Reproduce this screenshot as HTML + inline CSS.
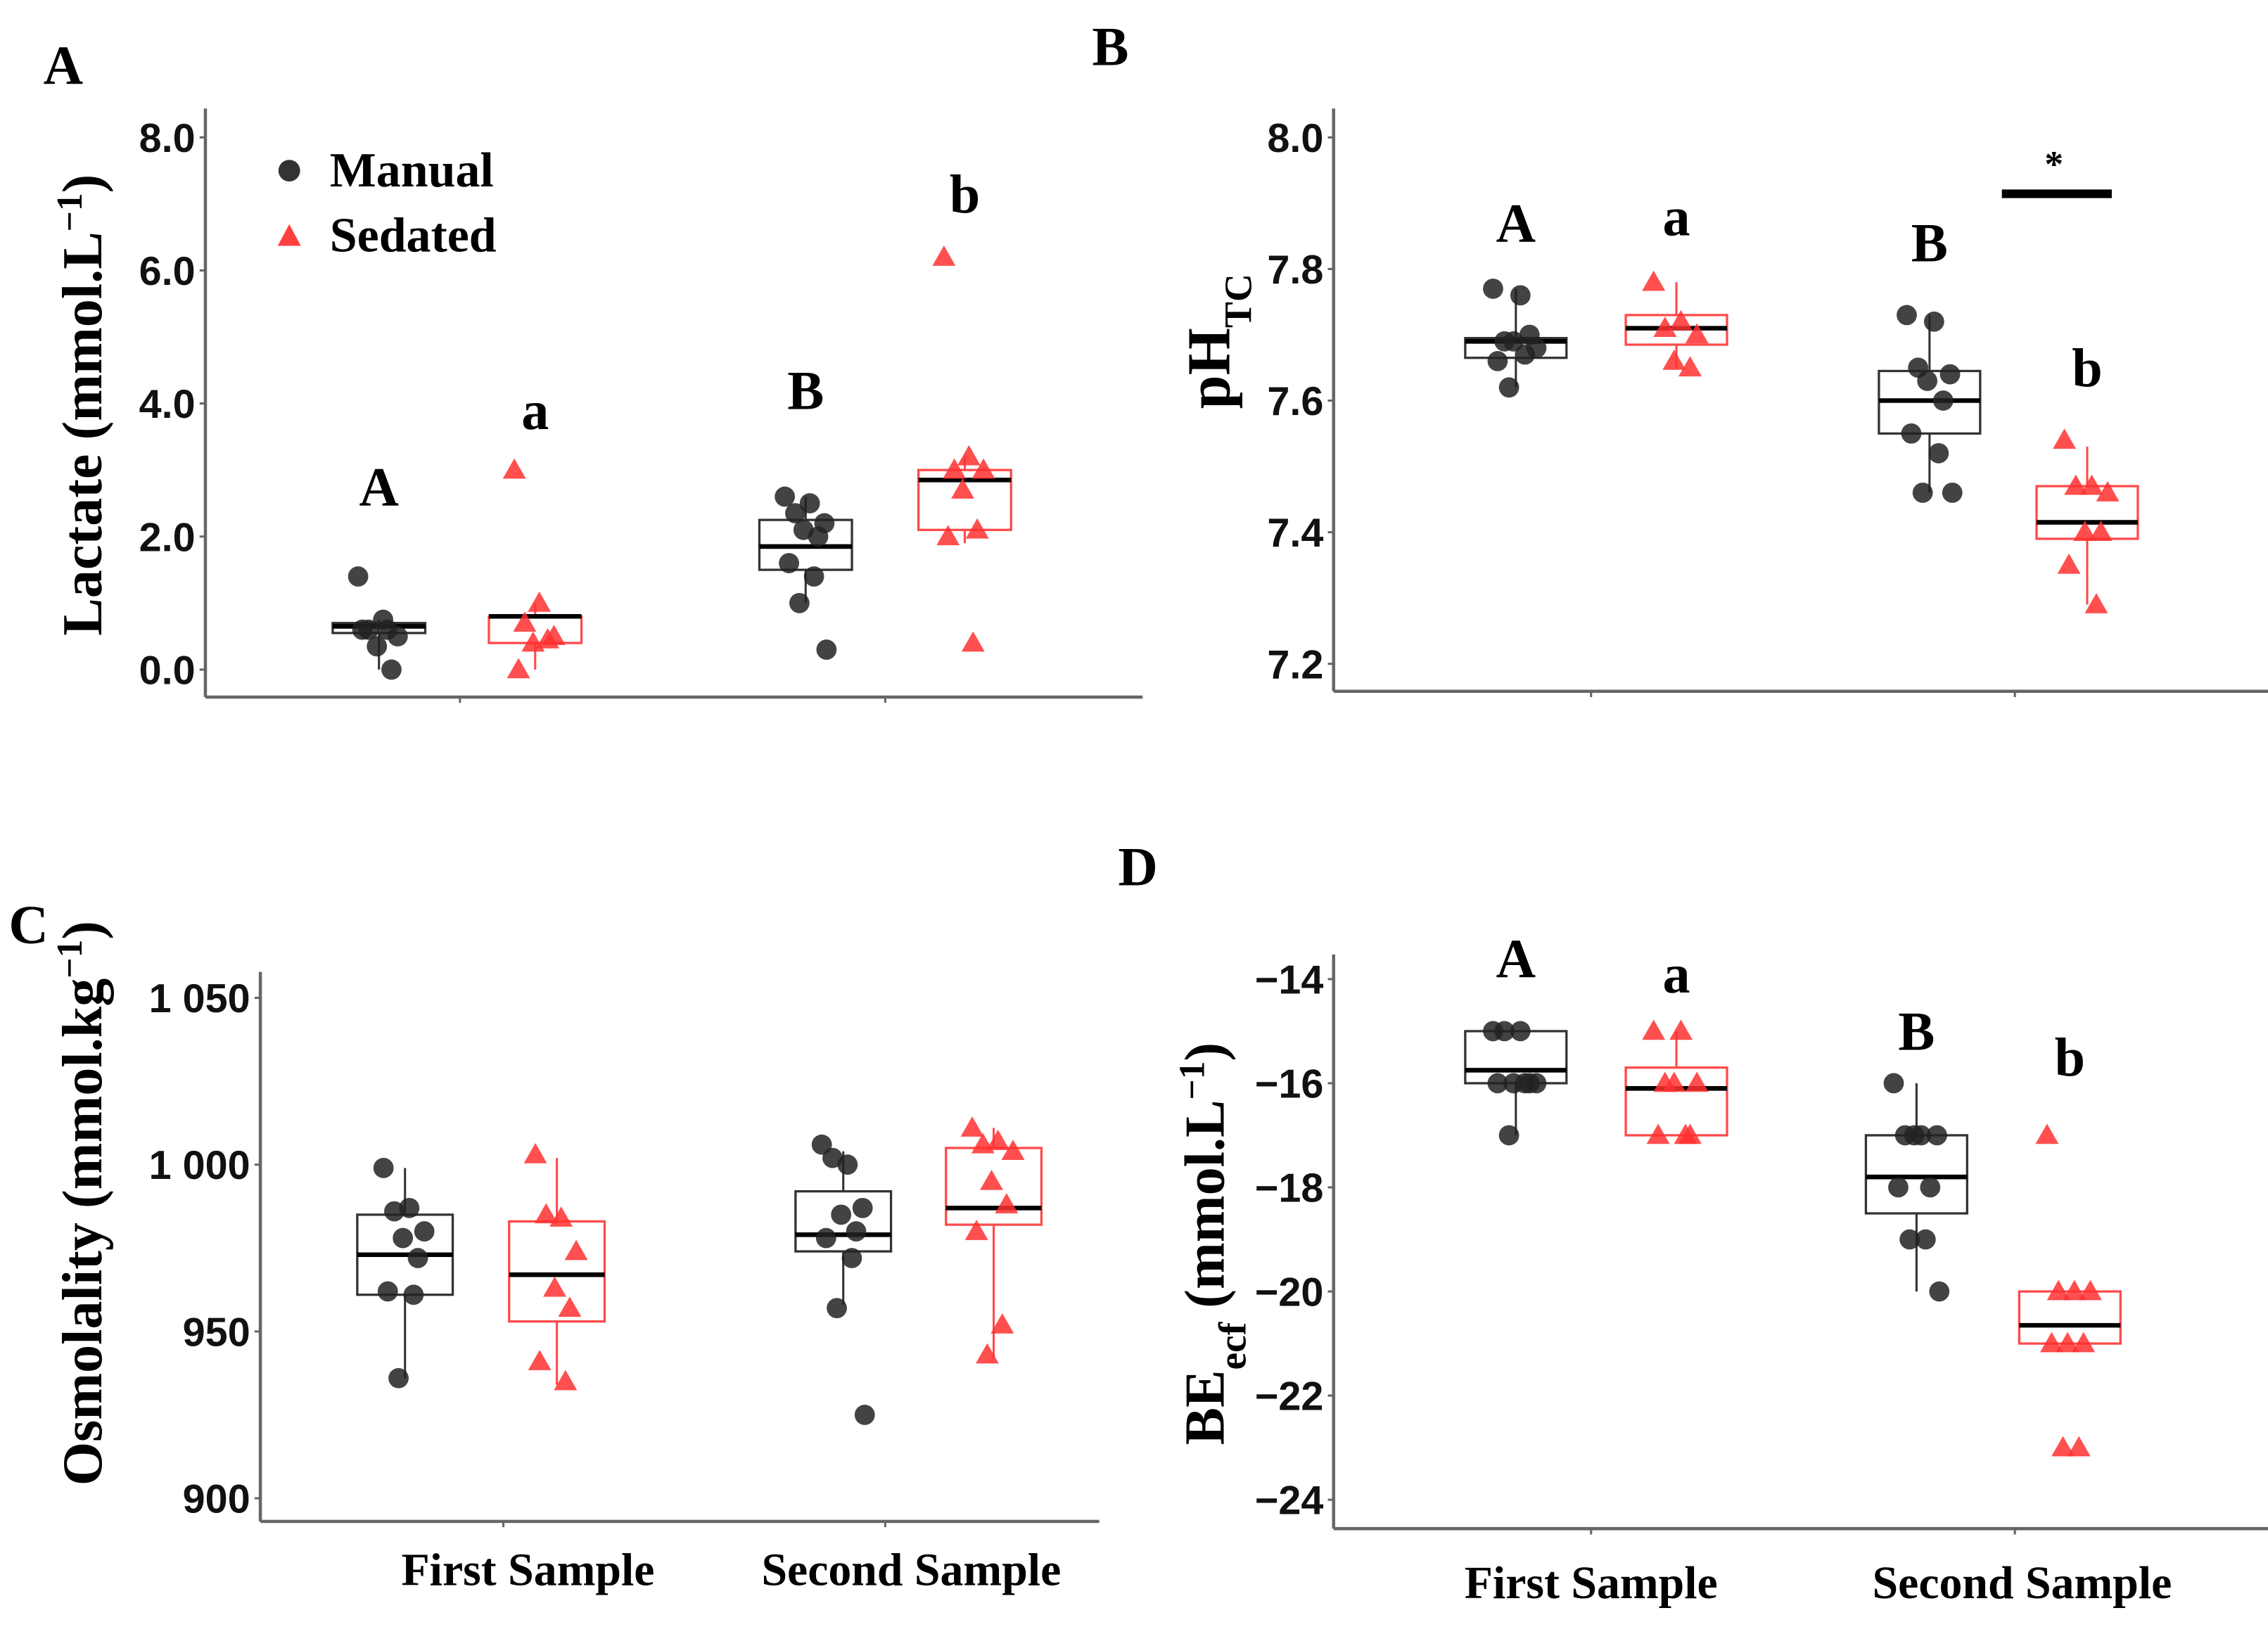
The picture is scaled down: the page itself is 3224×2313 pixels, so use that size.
<!DOCTYPE html>
<html><head><meta charset="utf-8"><style>
html,body{margin:0;padding:0;background:#fff;}
svg{display:block;}
</style></head><body>
<svg id="fig" width="3224" height="2313" viewBox="0 0 1568 1125" preserveAspectRatio="none" xmlns="http://www.w3.org/2000/svg">
<rect x="0" y="0" width="1568" height="1125" fill="#fff"/>
<g font-family="'Liberation Serif', serif" font-weight="bold" fill="#000">
<text x="30" y="58" font-size="38">A</text>
<text x="755" y="45" font-size="38">B</text>
<text x="6" y="652" font-size="38">C</text>
<text x="773" y="612" font-size="38">D</text>
</g>
<g font-family="'Liberation Serif', serif" font-weight="bold" font-size="34">
<circle cx="200" cy="118" r="7.5" fill="#333"/>
<text x="228" y="129">Manual</text>
<polygon points="200,155 208,170 192,170" fill="#ff4040"/>
<text x="228" y="174">Sedated</text>
</g>
<g>
<line x1="1384" y1="134" x2="1460" y2="134" stroke="#000" stroke-width="6"/>
<text x="1420" y="122" font-family="'Liberation Serif', serif" font-weight="bold" font-size="26" text-anchor="middle">*</text>
</g>
</svg>
<script>
// ---------- Panel A: Lactate ----------
const aTicks = [0, 2, 4, 6, 8];
const aTickLabels = ["0.0", "2.0", "4.0", "6.0", "8.0"];
const aLo = [0.0, 0.0, 1.0, 1.9];
const aQ1 = [0.55, 0.4, 1.5, 2.1];
const aMed = [0.65, 0.8, 1.85, 2.85];
const aQ3 = [0.7, 0.8, 2.25, 3.0];
const aHi = [0.75, 1.0, 2.6, 3.2];
const aM1 = [1.4, 0.75, 0.6, 0.5, 0.35, 0.0, 0.6, 0.6];
const aS1 = [3.0, 1.0, 0.7, 0.5, 0.4, 0.45, 0.0];
const aM2 = [2.6, 2.5, 2.35, 2.2, 2.1, 2.0, 1.6, 1.4, 1.0, 0.3];
const aS2 = [6.2, 3.2, 3.0, 3.0, 2.7, 2.1, 2.0, 0.4];
const aLetters = ["A", "a", "B", "b"];
const aLetterVals = [2.75, 3.9, 4.2, 7.15];

// ---------- Panel B: pH ----------
const bTicks = [7.2, 7.4, 7.6, 7.8, 8.0];
const bTickLabels = ["7.2", "7.4", "7.6", "7.8", "8.0"];
const bLo = [7.62, 7.65, 7.46, 7.29];
const bQ1 = [7.665, 7.685, 7.55, 7.39];
const bMed = [7.69, 7.71, 7.60, 7.415];
const bQ3 = [7.695, 7.73, 7.645, 7.47];
const bHi = [7.77, 7.78, 7.73, 7.53];
const bM1 = [7.77, 7.76, 7.69, 7.68, 7.69, 7.70, 7.66, 7.67, 7.62];
const bS1 = [7.78, 7.72, 7.71, 7.70, 7.66, 7.65];
const bM2 = [7.73, 7.72, 7.65, 7.64, 7.63, 7.60, 7.55, 7.52, 7.46, 7.46];
const bS2 = [7.54, 7.47, 7.47, 7.46, 7.40, 7.40, 7.35, 7.29];
const bLetters = ["A", "a", "B", "b"];
const bLetterVals = [7.87, 7.88, 7.84, 7.65];

// ---------- Panel C: Osmolality ----------
const cTicks = [900, 950, 1000, 1050];
const cTickLabels = ["900", "950", "1 000", "1 050"];
const cLo = [936, 934, 958, 942];
const cQ1 = [961, 953, 974, 982];
const cMed = [973, 967, 979, 987];
const cQ3 = [985, 983, 992, 1005];
const cHi = [999, 1002, 1004, 1011];
const cM1 = [999, 987, 986, 980, 978, 972, 962, 961, 936];
const cS1 = [1003, 984, 985, 974, 963, 957, 941, 935];
const cM2 = [1006, 1000, 1002, 987, 985, 980, 978, 972, 957, 925];
const cS2 = [1011, 1007, 1006, 1004, 995, 988, 980, 952, 943];

// ---------- Panel D: BEecf ----------
const dTicks = [-24, -22, -20, -18, -16, -14];
const dTickLabels = ["\u221224", "\u221222", "\u221220", "\u221218", "\u221216", "\u221214"];
const dLo = [-17, -17, -20, -21];
const dQ1 = [-16, -17, -18.5, -21];
const dMed = [-15.75, -16.1, -17.8, -20.65];
const dQ3 = [-15, -15.7, -17, -20];
const dHi = [-15, -15, -16, -20];
const dM1 = [-15, -15, -15, -16, -16, -16, -16, -16, -17];
const dS1 = [-15, -15, -16, -16, -16, -17, -17, -17];
const dM2 = [-16, -17, -17, -17, -17, -18, -18, -19, -19, -20];
const dS2 = [-17, -20, -20, -20, -21, -21, -21, -23, -23];
const dLetters = ["A", "a", "B", "b"];
const dLetterVals = [-13.6, -13.9, -15.0, -15.5];

const groupLabels = ["First Sample", "Second Sample"];

const NS = "http://www.w3.org/2000/svg";
const svg = document.getElementById("fig");
function mk(tag, attrs, parent) {
  const e = document.createElementNS(NS, tag);
  for (const k in attrs) e.setAttribute(k, attrs[k]);
  (parent || svg).appendChild(e);
  return e;
}
const jit = [-0.5, 0.1, -0.25, 0.45, -0.05, 0.3, -0.4, 0.2, -0.15, 0.5];

function panel(cfg) {
  const g = mk("g", {});
  
  
  const y = cfg.y;
  const ya = mk("line", {x1: cfg.ax, y1: cfg.top, x2: cfg.ax, y2: cfg.base, stroke: "#666", "stroke-width": 2.2}, g);
  
  
  const xa = mk("line", {x1: cfg.ax, y1: cfg.base, x2: cfg.xend, y2: cfg.base, stroke: "#666", "stroke-width": 2.2}, g);
  
  
  cfg.ticks.forEach((t, i) => {
    const yy = y(t);
    mk("line", {x1: cfg.ax - 4, y1: yy, x2: cfg.ax, y2: yy, stroke: "#666", "stroke-width": 1.5}, g);
    const tl = mk("text", {x: cfg.ax - 7, y: yy + 10, "text-anchor": "end", "font-family": "'Liberation Sans', sans-serif", "font-weight": "bold", "font-size": 28, fill: "#111"}, g);
    
    
    tl.textContent = cfg.tickLabels[i];
  });
  cfg.groupX.forEach(gx => mk("line", {x1: gx, y1: cfg.base, x2: gx, y2: cfg.base + 4, stroke: "#666", "stroke-width": 1.5}, g));
  const series = cfg.series;
  for (let k = 0; k < 4; k++) {
    const cx = cfg.centers[k], hw = cfg.hw;
    const col = k % 2 === 0 ? "#333" : "#ff4a4a";
    const bg = mk("g", {}, g);
    
    
    mk("line", {x1: cx, y1: y(cfg.lo[k]), x2: cx, y2: y(cfg.q1[k]), stroke: col, "stroke-width": 1.5}, bg);
    mk("line", {x1: cx, y1: y(cfg.q3[k]), x2: cx, y2: y(cfg.hi[k]), stroke: col, "stroke-width": 1.5}, bg);
    mk("rect", {x: cx - hw, y: y(cfg.q3[k]), width: 2 * hw, height: Math.max(1, y(cfg.q1[k]) - y(cfg.q3[k])), fill: "none", stroke: col, "stroke-width": 1.6}, bg);
    mk("line", {x1: cx - hw, y1: y(cfg.med[k]), x2: cx + hw, y2: y(cfg.med[k]), stroke: "#000", "stroke-width": 3.2}, bg);
    series[k].forEach((v, i) => {
      const px = cx + jit[i % jit.length] * hw * 0.9;
      const py = y(v);
      let m;
      if (k % 2 === 0) {
        m = mk("circle", {cx: px, cy: py, r: 7, fill: "#222", "fill-opacity": 0.85}, bg);
      } else {
        m = mk("polygon", {points: `${px},${py - 8} ${px + 8},${py + 6} ${px - 8},${py + 6}`, fill: "#ff3030", "fill-opacity": 0.85}, bg);
      }
      
      
    });
  }
  if (cfg.letters) cfg.letters.forEach((L, k) => {
    const t = mk("text", {x: cfg.centers[k], y: y(cfg.letterVals[k]) + 13, "text-anchor": "middle", "font-family": "'Liberation Serif', serif", "font-weight": "bold", "font-size": 38}, g);
    
    
    t.textContent = L;
  });
  if (cfg.xlabels) cfg.groupX.forEach((gx, i) => {
    const t = mk("text", {x: gx + cfg.xlabOff[i], y: cfg.xlabY, "text-anchor": "middle", "font-family": "'Liberation Serif', serif", "font-weight": "bold", "font-size": 32}, g);
    
    
    t.textContent = groupLabels[i];
  });
  const tt = mk("text", {transform: `translate(${cfg.titleX},${cfg.titleY}) rotate(-90)`, "text-anchor": "middle", "font-family": "'Liberation Serif', serif", "font-weight": "bold", "font-size": cfg.titleSize || 39}, g);
  
  
  cfg.title.forEach(p => {
    const s = mk("tspan", {}, tt);
    if (p[1] === "sup") { s.setAttribute("baseline-shift", "super"); s.setAttribute("font-size", 25); }
    if (p[1] === "sub") { s.setAttribute("baseline-shift", "sub"); s.setAttribute("font-size", 27); }
    s.textContent = p[0];
  });
}

panel({name: "panel-a-lactate", ax: 142, top: 75, base: 482, xend: 790,
  y: v => 463 - 46 * v, ticks: aTicks, tickLabels: aTickLabels,
  groupX: [318, 612], centers: [262, 370, 557, 667], hw: 32,
  lo: aLo, q1: aQ1, med: aMed, q3: aQ3, hi: aHi, series: [aM1, aS1, aM2, aS2],
  letters: aLetters, letterVals: aLetterVals,
  titleX: 70, titleY: 280, title: [["Lactate (mmol.L"], ["\u22121", "sup"], [")"]]});

panel({name: "panel-b-ph", ax: 922, top: 75, base: 478, xend: 1568,
  y: v => 459 - (v - 7.2) * 455, ticks: bTicks, tickLabels: bTickLabels,
  groupX: [1100, 1393], centers: [1048, 1159, 1334, 1443], hw: 35,
  lo: bLo, q1: bQ1, med: bMed, q3: bQ3, hi: bHi, series: [bM1, bS1, bM2, bS2],
  letters: bLetters, letterVals: bLetterVals,
  titleX: 850, titleY: 236, titleSize: 42, title: [["pH"], ["TC", "sub"]]});

panel({name: "panel-c-osmolality", ax: 180, top: 672, base: 1052, xend: 760,
  y: v => 1036 - (v - 900) * 2.307, ticks: cTicks, tickLabels: cTickLabels,
  groupX: [348, 612], centers: [280, 385, 583, 687], hw: 33,
  lo: cLo, q1: cQ1, med: cMed, q3: cQ3, hi: cHi, series: [cM1, cS1, cM2, cS2],
  xlabels: true, xlabY: 1096, xlabOff: [17, 18],
  titleX: 70, titleY: 832, title: [["Osmolality (mmol.kg"], ["\u22121", "sup"], [")"]]});

panel({name: "panel-d-beecf", ax: 922, top: 660, base: 1057, xend: 1568,
  y: v => 677 + (-14 - v) * 36, ticks: dTicks, tickLabels: dTickLabels,
  groupX: [1100, 1393], centers: [1048, 1159, 1325, 1431], hw: 35,
  lo: dLo, q1: dQ1, med: dMed, q3: dQ3, hi: dHi, series: [dM1, dS1, dM2, dS2],
  letters: dLetters, letterVals: dLetterVals,
  xlabels: true, xlabY: 1105, xlabOff: [0, 5],
  titleX: 846, titleY: 860, title: [["BE"], ["ecf", "sub"], [" (mmol.L"], ["\u22121", "sup"], [")"]]});
</script>
</body></html>
